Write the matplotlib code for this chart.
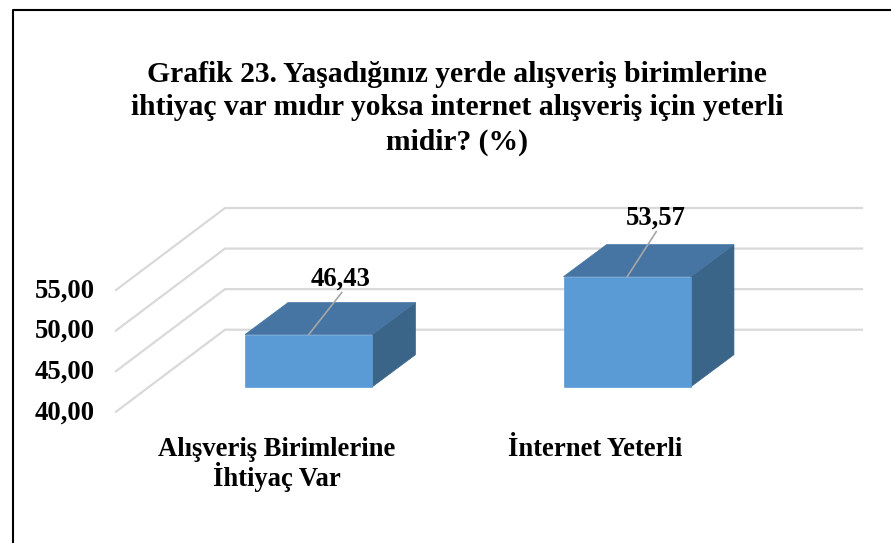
import matplotlib
matplotlib.use("Agg")
import matplotlib.pyplot as plt
from matplotlib.lines import Line2D
from matplotlib.patches import Polygon
from matplotlib.transforms import Affine2D, IdentityTransform

# data
categories = ["Alışveriş Birimlerine\nİhtiyaç Var", "İnternet Yeterli"]
values = [46.43, 53.57]
value_labels = ["46,43", "53,57"]
y_ticks = [40, 45, 50, 55]
y_tick_labels = ["40,00", "45,00", "50,00", "55,00"]
title = ("Grafik 23. Yaşadığınız yerde alışveriş birimlerine\n"
         "ihtiyaç var mıdır yoksa internet alışveriş için yeterli\n"
         "midir? (%)")

W, H = 891, 543
plt.rcParams["font.family"] = ["Liberation Serif", "DejaVu Serif"]
plt.rcParams["font.weight"] = "bold"

fig = plt.figure(figsize=(W / 100, H / 100), dpi=100, facecolor="white")

# front plane of the fake 3d box, in pixels of the picture
ax = fig.add_axes([116 / W, 1 - 411.7 / H, 637 / W, 121.7 / H])
ax.set_xlim(0, 2)
ax.set_ylim(40, 55)
ax.patch.set_visible(False)
for s in ax.spines.values():
    s.set_visible(False)
ax.set_xticks([0.5, 1.5])
ax.set_xticklabels(categories, fontsize=19.2, fontweight="bold", linespacing=1.02)
ax.set_yticks(y_ticks)
ax.set_yticklabels(y_tick_labels, fontsize=19.2, fontweight="bold", va="center_baseline")
ax.tick_params(axis="x", length=0, pad=18)
ax.tick_params(axis="y", length=0, pad=15.5)
for lab in ax.get_yticklabels():
    lab.set_transform(lab.get_transform() + Affine2D().translate(0, 2))
for lab in ax.get_xticklabels():
    lab.set_transform(lab.get_transform() + Affine2D().translate(1.5, 0))

wall = (109, 82)
bar_front = (33.5, 25)
bar_back = (76.5, 57)
bar_width = 0.4
# leader line ends and label baselines, pixels from the bar's top edge
leader_ends = [(33, 42), (29, 45)]
label_shift = [(32, 49), (29, 52)]
px = IdentityTransform()


def proj(x, v, depth):
    p = ax.transData.transform((x, v))
    return p[0] + depth[0], p[1] + depth[1]


# gridlines on floor side and back wall
for v in y_ticks:
    a = proj(0, v, (0, 0))
    b = proj(0, v, wall)
    c = proj(2, v, wall)
    ax.add_line(Line2D([a[0], b[0], c[0]], [a[1], b[1], c[1]], transform=px,
                       color="#d9d9d9", lw=1.6, clip_on=False, zorder=1))

for i, v in enumerate(values):
    x0 = i + 0.5 - bar_width / 2
    x1 = i + 0.5 + bar_width / 2
    front = [proj(x0, 40, bar_front), proj(x1, 40, bar_front),
             proj(x1, v, bar_front), proj(x0, v, bar_front)]
    top = [proj(x0, v, bar_front), proj(x1, v, bar_front),
           proj(x1, v, bar_back), proj(x0, v, bar_back)]
    side = [proj(x1, 40, bar_front), proj(x1, 40, bar_back),
            proj(x1, v, bar_back), proj(x1, v, bar_front)]
    for pts, col in [(side, "#3b6588"), (top, "#4675a3"), (front, "#5b9bd5")]:
        ax.add_patch(Polygon(pts, closed=True, transform=px, facecolor=col,
                             edgecolor=col, lw=0.5, clip_on=False, zorder=3))
    # leader line and value label
    lx, ly = proj(i + 0.5, v, bar_front)
    ax.add_line(Line2D([lx, lx + leader_ends[i][0]], [ly, ly + leader_ends[i][1]],
                       transform=px, color="#a6a6a6", lw=1.2, clip_on=False, zorder=4))
    ax.text(lx + label_shift[i][0], ly + label_shift[i][1], value_labels[i], transform=px,
            ha="center", va="baseline", fontsize=19.2, fontweight="bold", color="black",
            zorder=5)

fig.text(457 / W, 1 - 60.5 / H, title, ha="center", va="top", fontsize=21.3,
         fontweight="bold", linespacing=1.33)

# outer frame, runs off the bottom of the picture
fig.add_artist(Line2D([13 / W, 13 / W, 1], [0, 1 - 10 / H, 1 - 10 / H],
                      color="black", lw=1.5))

fig.savefig("out.png", dpi=100)
